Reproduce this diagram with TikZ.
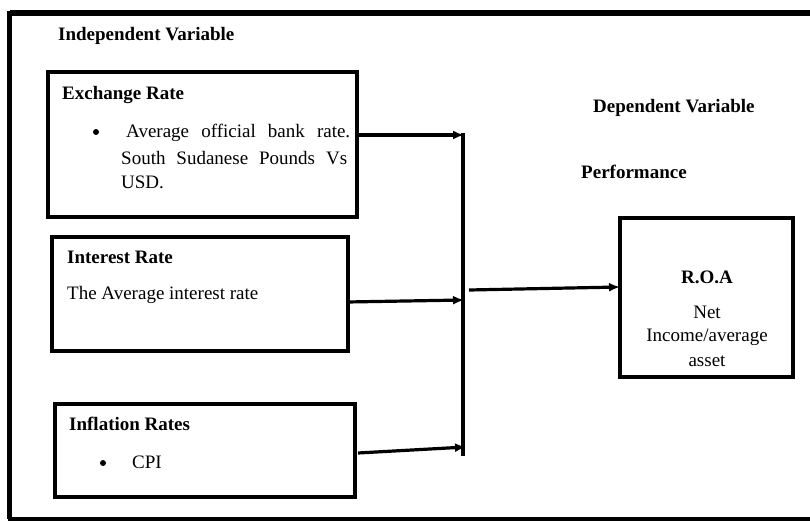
\documentclass[tikz,border=0pt]{standalone}
\usepackage{fontspec}
\setmainfont{Liberation Serif}
\usetikzlibrary{arrows.meta}
\begin{document}
\begin{tikzpicture}[x=1pt,y=-1pt,
  box/.style={draw, line width=3.2pt, minimum width=#1, inner sep=0pt},
  txt/.style={anchor=west, inner sep=0pt, font=\fontsize{19}{23}\selectfont},
  btxt/.style={txt, font=\fontsize{19}{23}\selectfont\bfseries},
  ctxt/.style={anchor=center, inner sep=0pt, font=\fontsize{19}{23}\selectfont},
  bul/.style={circle, fill=black, inner sep=0pt, minimum size=6pt},
  arr/.style={line width=3.2pt, -{Latex[length=11pt,width=9pt]}},
  bus/.style={line width=3.2pt}]
\useasboundingbox (0,0) rectangle (810,521);
% outer frame
\draw[line width=6pt] (10,13.5) -- (810,13.5);
\draw[line width=4.5pt] (9.5,11) -- (9.5,519);
\draw[line width=4pt] (7.5,519) -- (810,519);
% boxes
\node[box=309pt, minimum height=145pt] (exch) at (202.5,144.5) {};
\node[box=296pt, minimum height=114pt] (inter) at (200,294) {};
\node[box=300pt, minimum height=93pt] (infl) at (205,450.5) {};
\node[box=173pt, minimum height=159pt] (roa) at (706.5,297.5) {};
% texts
\node[btxt] (iv) at (58,36) {Independent Variable};
\node[btxt] (ert) at (62,95) {Exchange Rate};
\node[bul] (b1) at (96,132) {};
\node[txt] (l1) at (126,133) {\makebox[224pt][s]{Average official bank rate.}};
\node[txt] (l2) at (121,158) {\makebox[226pt][s]{South Sudanese Pounds Vs}};
\node[txt] (l3) at (121,182) {USD.};
\node[btxt] (irt) at (67,257) {Interest Rate};
\node[txt] (irb) at (67,295) {The Average interest rate};
\node[btxt] (inft) at (69,424) {Inflation Rates};
\node[bul] (b2) at (103,463) {};
\node[txt] (cpi) at (132,462) {CPI};
\node[btxt] (dv) at (593,108) {Dependent Variable};
\node[btxt] (perf) at (581,172) {Performance};
\node[ctxt, font=\fontsize{19}{23}\selectfont\bfseries] (roat) at (707,277) {R.O.A};
\node[ctxt] (r1) at (707,312) {Net};
\node[ctxt] (r2) at (707,337) {Income/average};
\node[ctxt] (r3) at (707,361) {asset};
% connectors
\coordinate (bt) at (463,133);
\coordinate (bb) at (463,456);
\coordinate (e1) at (357,135);
\coordinate (e2) at (464,135);
\coordinate (i1) at (347,302);
\coordinate (i2) at (464,300);
\coordinate (f1) at (358,453);
\coordinate (f2) at (466,447);
\coordinate (o1) at (469,290);
\coordinate (o2) at (620,287);
\draw[bus] (bt) -- (bb);
\draw[arr] (e1) -- (e2);
\draw[arr] (i1) -- (i2);
\draw[arr] (f1) -- (f2);
\draw[arr] (o1) -- (o2);
\end{tikzpicture}
\end{document}
